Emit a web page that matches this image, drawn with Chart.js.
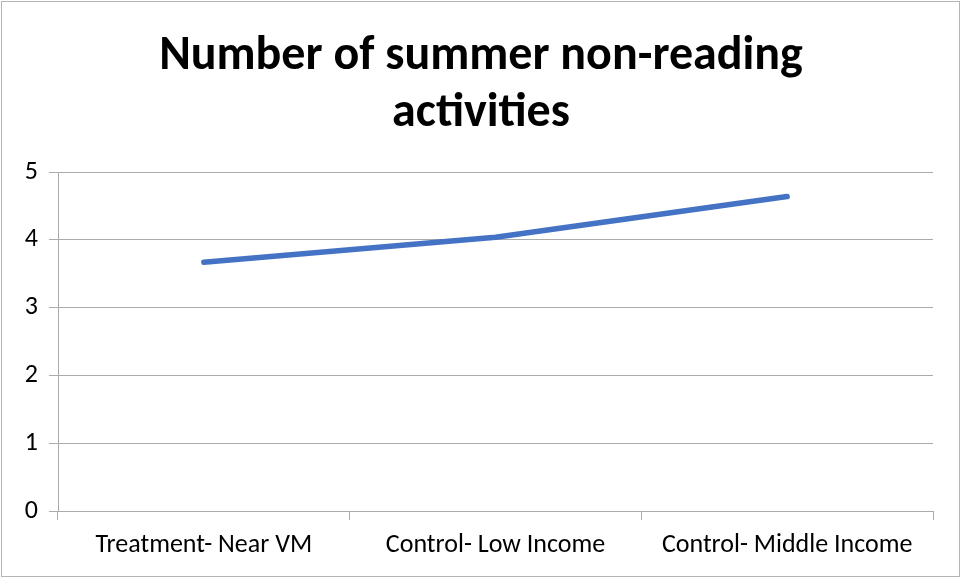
<!DOCTYPE html>
<html>
<head>
<meta charset="utf-8">
<script src="https://cdn.jsdelivr.net/npm/chart.js@4"></script>
<style>
  body { margin: 0; background: #fff; }
  #wrap { position: relative; width: 962px; height: 578px; }
  #frame { position: absolute; left: 1px; top: 1px; width: 957px; height: 574px; border: 1px solid #b4b4b4; box-sizing: content-box; pointer-events: none; }
  canvas { position: absolute; left: 0; top: 0; }
</style>
</head>
<body>
<div id="wrap">
  <canvas id="lineChart" width="962" height="578"></canvas>
  <div id="frame"></div>
</div>
<script>
// chart data
var categories = ['Treatment- Near VM', 'Control- Low Income', 'Control- Middle Income'];
var activities = [3.67, 4.04, 4.64];
var yTicks = [0, 1, 2, 3, 4, 5];
var titleLines = ['Number of summer non-reading', 'activities'];

var fontFam = "Carlito, Lato, 'Open Sans', sans-serif";
var gridGray = '#ababab';

var ctx = document.getElementById('lineChart').getContext('2d');
var lineChart = new Chart(ctx, {
    type: 'line',
    data: {
        labels: categories,
        datasets: [{
            data: activities,
            borderColor: '#4472C4',
            borderWidth: 5.5,
            borderCapStyle: 'round',
            borderJoinStyle: 'round',
            pointRadius: 0,
            tension: 0,
            fill: false
        }]
    },
    options: {
        responsive: false,
        animation: false,
        layout: { padding: 0 },
        plugins: {
            legend: { display: false },
            tooltip: { enabled: false },
            title: {
                display: true,
                text: titleLines,
                color: '#000',
                font: { family: fontFam, size: 48, weight: 'bold', lineHeight: 1.2 },
                padding: { top: 28, bottom: 29 }
            }
        },
        scales: {
            x: {
                offset: true,
                grid: { display: true, drawOnChartArea: false, offset: true, color: gridGray, tickLength: 9, lineWidth: 1 },
                border: { display: true, color: gridGray, width: 1 },
                ticks: { color: '#000', font: { family: fontFam, size: 26 }, padding: 10, maxRotation: 0 },
                afterFit: function (scale) { scale.height = 67; }
            },
            y: {
                min: 0,
                max: 5,
                afterBuildTicks: function (scale) {
                    scale.ticks = yTicks.map(function (v) { return { value: v }; });
                },
                grid: { color: gridGray, tickLength: 9, lineWidth: 1 },
                border: { display: true, color: gridGray, width: 1 },
                ticks: { color: '#000', font: { family: fontFam, size: 26 }, padding: 11 },
                afterFit: function (scale) { scale.width = 58; }
            },
            // empty right-hand axis: only reserves the right margin of the plot
            yRight: {
                position: 'right',
                min: 0,
                max: 5,
                grid: { display: false },
                border: { display: false },
                ticks: { display: false },
                afterFit: function (scale) { scale.width = 29; }
            }
        }
    }
});
</script>
</body>
</html>
